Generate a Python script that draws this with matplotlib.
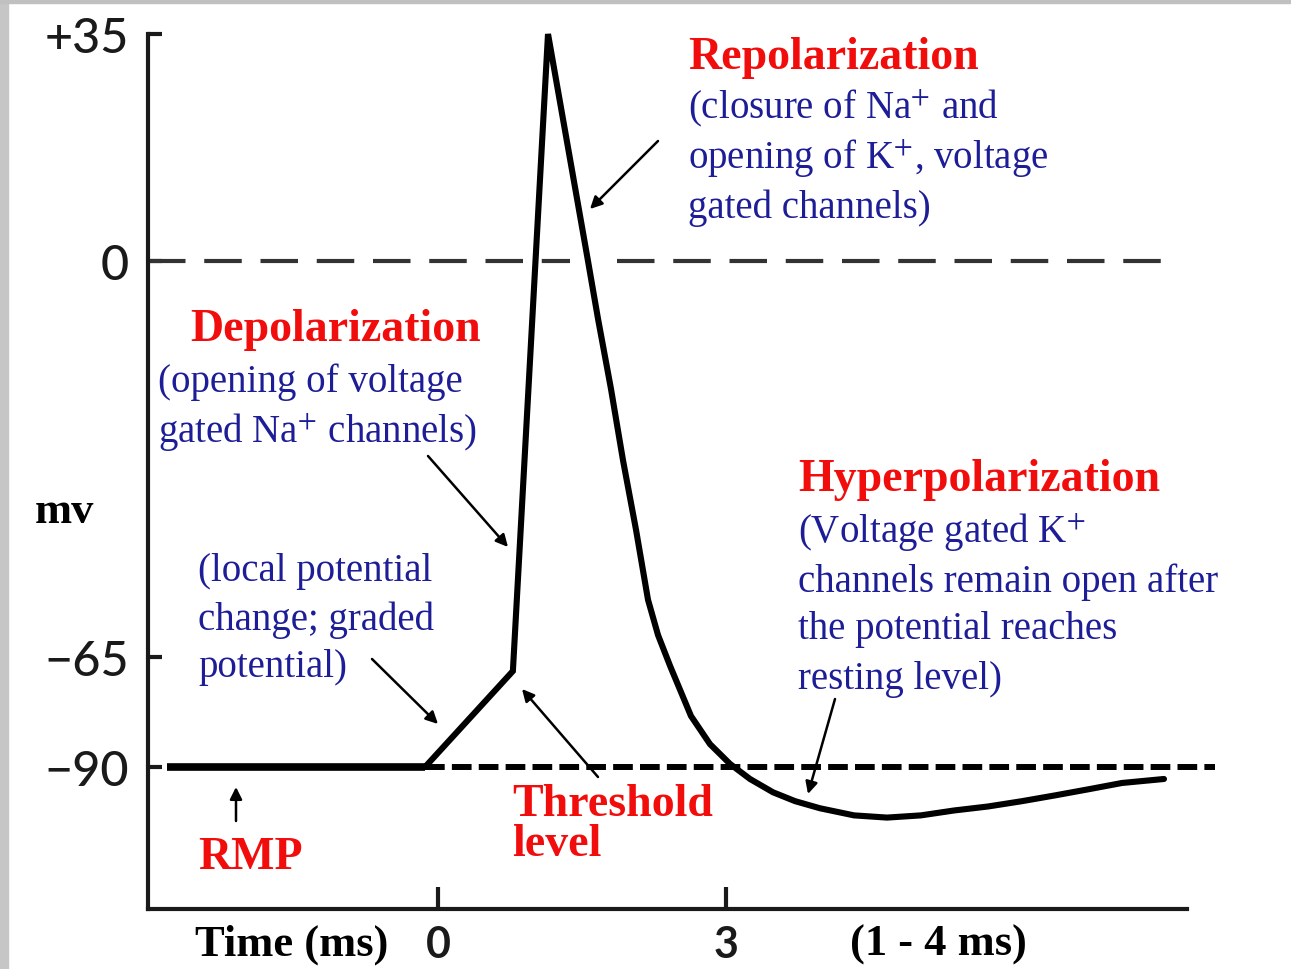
import matplotlib
matplotlib.use("Agg")
import matplotlib.pyplot as plt
from matplotlib.patches import Rectangle
import numpy as np

W, H = 1291, 970

# membrane potential trace (time in ms, potential in mV)
rest_t = [-2.82, -0.135]
rest_v = [-90, -90]
spike_t = [-0.135, 0.78, 1.146, 1.5625, 1.667, 1.802, 1.927, 2.0625, 2.1875, 2.292,
           2.417, 2.635, 2.833, 3.042, 3.25, 3.49, 3.72, 3.979, 4.333, 4.677,
           5.031, 5.375, 5.729, 6.083, 6.427, 6.781, 7.125, 7.5625]
spike_v = [-90, -68.2, 35, 0, -9.5, -21.0, -32.7, -44.1, -55.6, -61.4,
           -67.0, -78.4, -84.8, -89.3, -92.7, -95.7, -97.7, -99.3, -100.9, -101.4,
           -100.9, -99.8, -98.9, -97.7, -96.4, -95.0, -93.6, -92.7]

yticks = [35, 0, -65, -90]
ytick_labels = ['+35', '0', '\u221265', '\u221290']
xticks = [0, 3]
xtick_labels = ['0', '3']

# the drawing is not to scale: piecewise mapping mV -> pixel height
anchor_mv = [-200, -122, -90, -65, 0, 35, 60]
anchor_px = [-343.2, 0, 142, 252, 648, 875, 1037.2]


def fwd(v):
    return np.interp(v, anchor_mv, anchor_px)


def inv(p):
    return np.interp(p, anchor_px, anchor_mv)


def P(x, y):
    return x / W, 1 - y / H


RED = '#f20d0d'
BLUE = '#1d1d97'
SERIF = 'Liberation Serif'
plt.rcParams['mathtext.fontset'] = 'stix'

fig = plt.figure(figsize=(W / 100, H / 100), dpi=100)
fig.patch.set_facecolor('white')

ytop = 35.5
x0, x1 = -3.02, 8.2
left_px = 438 + x0 * 96
right_px = 438 + x1 * 96
top_px = 910 - fwd(ytop)
ax = fig.add_axes([left_px / W, (H - 910) / H, (right_px - left_px) / W, (910 - top_px) / H])
ax.set_yscale('function', functions=(fwd, inv))
ax.set_xlim(x0, x1)
ax.set_ylim(-122, ytop)
ax.patch.set_alpha(0)

for s in ['top', 'right']:
    ax.spines[s].set_visible(False)
for s in ['left', 'bottom']:
    ax.spines[s].set_linewidth(3)
    ax.spines[s].set_color('#1a1a1a')
ax.spines['bottom'].set_bounds(x0, 7.8)
ax.spines['left'].set_bounds(-122, 35)

ax.set_yticks(yticks)
ax.set_yticklabels(ytick_labels, family=['Lato', 'DejaVu Sans'], fontsize=35, weight='medium')
ax.yaxis.set_minor_locator(matplotlib.ticker.NullLocator())
ax.set_xticks(xticks)
ax.set_xticklabels(xtick_labels, family=['Lato', 'DejaVu Sans'], fontsize=31, weight='bold')
ax.tick_params(axis='y', direction='in', length=10, width=3, pad=14, colors='#1a1a1a')
ax.tick_params(axis='x', direction='in', length=16, width=3, pad=11, colors='#1a1a1a')

# reference levels
ax.plot([x0, 1.375], [0, 0], color='#333333', lw=3, dashes=(9, 4.5))
ax.plot([1.86, 7.57], [0, 0], color='#333333', lw=3, dashes=(9, 4.5))
ax.plot([-0.135, 8.09], [-90, -90], color='black', lw=4.3, dashes=(3.3, 1.2), clip_on=False)

# trace
ax.plot(rest_t, rest_v, color='black', lw=5.5, solid_capstyle='butt')
ax.plot(spike_t, spike_v, color='black', lw=4.4, solid_joinstyle='miter', solid_capstyle='round')

# labels
def txt(x, y, s, color, size, weight='normal', family=SERIF):
    fig.text(*P(x, y), s, color=color, fontsize=size, weight=weight, family=family,
             ha='left', va='center')

RS, BS = 33, 28
txt(688, 58, 'Repolarization', RED, RS, 'bold')
txt(688, 108, '(closure of Na$^{+}$ and', BLUE, BS)
txt(688, 158, 'opening of K$^{+}$, voltage', BLUE, BS)
txt(688, 208, 'gated channels)', BLUE, BS)

txt(190, 330, 'Depolarization', RED, RS, 'bold')
txt(158, 382, '(opening of voltage', BLUE, BS)
txt(158, 432, 'gated Na$^{+}$ channels)', BLUE, BS)

txt(35, 512, 'mv', 'black', 32, 'bold')

txt(198, 572, '(local potential', BLUE, BS)
txt(198, 620, 'change; graded', BLUE, BS)
txt(198, 668, 'potential)', BLUE, BS)

txt(798, 480, 'Hyperpolarization', RED, RS, 'bold')
txt(798, 532, '(Voltage gated K$^{+}$', BLUE, BS)
txt(798, 582, 'channels remain open after', BLUE, BS)
txt(798, 630, 'the potential reaches', BLUE, BS)
txt(798, 680, 'resting level)', BLUE, BS)

txt(198, 858, 'RMP', RED, RS, 'bold')
txt(512, 805, 'Threshold', RED, RS, 'bold')
txt(512, 845, 'level', RED, RS, 'bold')

txt(195, 945, 'Time (ms)', 'black', 32, 'bold')
txt(850, 945, '(1 - 4 ms)', 'black', 32, 'bold')

# arrows
arrows = [((658, 142), (590, 210)),
          ((428, 457), (508, 548)),
          ((372, 660), (438, 725)),
          ((598, 778), (522, 690)),
          ((236, 822), (236, 788)),
          ((835, 700), (808, 795))]
for tail, tip in arrows:
    ax.annotate('', xy=P(*tip), xytext=P(*tail), xycoords='figure fraction',
                textcoords='figure fraction', annotation_clip=False,
                arrowprops=dict(arrowstyle='-|>', lw=1.8, color='black',
                                mutation_scale=18, shrinkA=0, shrinkB=0))

# screenshot frame
fig.patches.append(Rectangle((0, 0), 8 / W, 1, transform=fig.transFigure,
                             color='#c6c6c6', zorder=0))
fig.patches.append(Rectangle((0, 1 - 4 / H), 1, 4 / H, transform=fig.transFigure,
                             color='#c0c0c0', zorder=0))

fig.savefig('out.png', dpi=100)
